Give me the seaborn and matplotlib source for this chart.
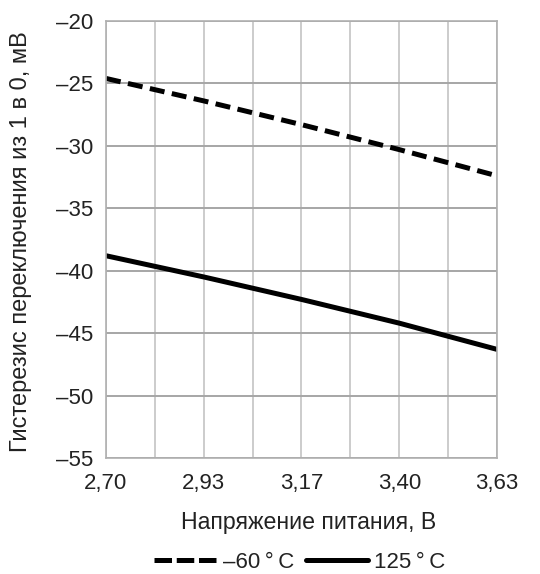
import matplotlib
matplotlib.use("Agg")
import matplotlib.pyplot as plt
from matplotlib.lines import Line2D
import seaborn as sns
import pandas as pd

voltage = [2.70, 2.9325, 3.165, 3.3975, 3.63]
hyst_m60 = [-24.6, -26.4, -28.3, -30.3, -32.4]
hyst_125 = [-38.8, -40.5, -42.3, -44.2, -46.3]
x_tick_labels = ["2,70", "2,93", "3,17", "3,40", "3,63"]
y_ticks = [-20, -25, -30, -35, -40, -45, -50, -55]
series_names = ["\u201360\u2009°\u2009C", "125\u2009°\u2009C"]

sns.set_theme(style="white")
plt.rcParams['font.family'] = ['Liberation Sans', 'DejaVu Sans']

df = pd.DataFrame({
    "V": voltage * 2,
    "H": hyst_m60 + hyst_125,
    "T": [series_names[0]] * len(voltage) + [series_names[1]] * len(voltage),
})

W, H = 540, 574
fig = plt.figure(figsize=(W / 100, H / 100), dpi=100)
L, R, T, B = 106, 497, 21, 458
ax = fig.add_axes([L / W, 1 - B / H, (R - L) / W, (B - T) / H])

sns.lineplot(data=df, x="V", y="H", hue="T", style="T",
             palette=["black", "black"],
             dashes={series_names[0]: (3.0, 1.5), series_names[1]: ""},
             linewidth=3.6, ax=ax, legend=False)
for ln in ax.get_lines():
    ln.set_solid_capstyle("round")
    ln.set_dash_capstyle("butt")

ax.set_xlim(voltage[0], voltage[-1])
ax.set_ylim(-55, -20)
ax.set_xticks(voltage)
ax.set_xticklabels(x_tick_labels)
minor = [(voltage[i] + voltage[i + 1]) / 2 for i in range(len(voltage) - 1)]
ax.set_xticks(minor, minor=True)
ax.set_yticks(y_ticks)
ax.set_yticklabels(["\u2013" + str(abs(v)) for v in y_ticks])

ax.grid(True, axis="x", which="both", color="#c4c4c4", linewidth=1.2)
ax.grid(True, axis="y", which="major", color="#a6a6a6", linewidth=1.4)
ax.set_axisbelow(True)
for s in ax.spines.values():
    s.set_color("#b0b0b0")
    s.set_linewidth(1.2)
ax.tick_params(axis="both", which="both", length=0, labelsize=16, colors="#222222")
ax.tick_params(axis="x", pad=11)
ax.tick_params(axis="y", pad=9)

ax.set_xlabel("Напряжение питания, В", fontsize=16.7, color="#222222", va="center")
ax.set_ylabel("Гистерезис переключения из 1 в 0, мВ", fontsize=17, color="#222222", va="center")
ax.xaxis.set_label_coords(309 / W, 1 - 522 / H, transform=fig.transFigure)
ax.yaxis.set_label_coords(21.5 / W, 1 - 242 / H, transform=fig.transFigure)

handles = [Line2D([], [], color="black", linewidth=3.6, dashes=(3.5, 0.95)),
           Line2D([], [], color="black", linewidth=3.6)]
fig.legend(handles, series_names, loc="center", bbox_to_anchor=(300 / W, 1 - 562 / H),
           ncol=2, frameon=False, fontsize=16, handlelength=2.8, handletextpad=0.3,
           columnspacing=0.5, labelcolor="#222222")

fig.savefig("out.png", dpi=100)
